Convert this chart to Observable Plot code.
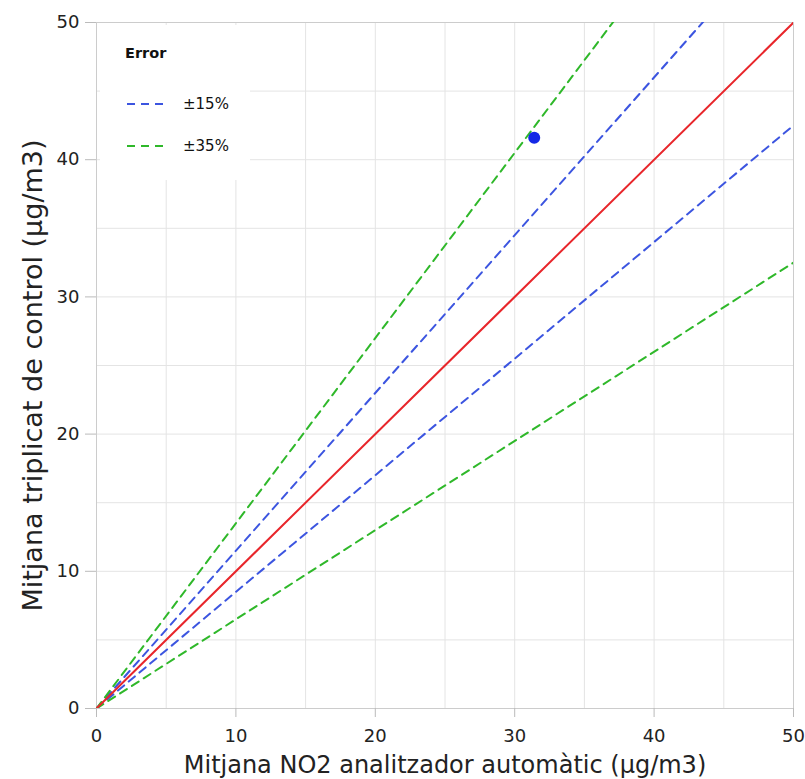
<!DOCTYPE html>
<html><head><meta charset="utf-8">
<script src="https://cdn.jsdelivr.net/npm/d3@7"></script>
<script src="https://cdn.jsdelivr.net/npm/@observablehq/plot@0.6"></script>
<style>
body{margin:0;background:#fff;font-family:"DejaVu Sans",sans-serif;}
#wrap{position:relative;width:805px;height:779px;}
#legend{position:absolute;left:100px;top:25px;width:150px;height:155px;background:#fff;font-family:"DejaVu Sans",sans-serif;}
#legend .t{position:absolute;left:25px;top:20px;font-size:14.5px;font-weight:bold;color:#111;}
#legend .row{position:absolute;left:25px;font-size:15px;color:#111;line-height:16px;}
</style></head>
<body><div id="wrap"></div>
<script>
const xDomain = [0, 50];
const yDomain = [0, 50];
const errorLevels = [15, 35];
const errorColors = ["#3c55e0", "#2fb82a"];
const pointX = [31.4];
const pointY = [41.6];
const axisTicks = [0, 10, 20, 30, 40, 50];
const gridTicks = [5, 10, 15, 20, 25, 30, 35, 40, 45];

const lines = [];
errorLevels.forEach((e, i) => {
  for (const s of [1, -1]) {
    const f = 1 + s * e / 100;
    const id = `${e}${s}`;
    xDomain.forEach(x => lines.push({id, x, y: x * f, color: errorColors[i]}));
  }
});
const identity = xDomain.map(x => ({x, y: x}));
const points = pointX.map((x, i) => ({x, y: pointY[i]}));

const xLabel = "Mitjana NO2 analitzador automàtic (µg/m3)";
const yLabel = "Mitjana triplicat de control (µg/m3)";

const chart = Plot.plot({
  width: 805, height: 779,
  marginLeft: 96, marginRight: 12, marginTop: 22, marginBottom: 71,
  style: {fontFamily: "DejaVu Sans, sans-serif", fontSize: "18px", color: "#222"},
  x: {domain: xDomain, label: xLabel},
  y: {domain: yDomain, label: yLabel},
  marks: [
    Plot.gridX(gridTicks, {stroke: "#e4e4e4", strokeOpacity: 1}),
    Plot.gridY(gridTicks, {stroke: "#e4e4e4", strokeOpacity: 1}),
    Plot.frame({stroke: "#cccccc"}),
    Plot.line(lines, {x: "x", y: "y", z: "id", stroke: "color", strokeWidth: 2, strokeDasharray: "8,6", clip: true}),
    Plot.line(identity, {x: "x", y: "y", stroke: "#e8262b", strokeWidth: 2, clip: true}),
    Plot.dot(points, {x: "x", y: "y", r: 6, fill: "#1428e6", stroke: "none"}),
    Plot.axisX({ticks: axisTicks, tickSize: 9, tickPadding: 12, fontSize: 18, stroke: "#bbb", label: xLabel, labelArrow: "none", labelAnchor: "center", labelOffset: 64}),
    Plot.axisY({ticks: axisTicks, tickSize: 11, tickPadding: 6, fontSize: 18, stroke: "#bbb", label: yLabel, labelArrow: "none", labelAnchor: "center", labelOffset: 74})
  ]
});
chart.querySelectorAll("g[aria-label='x-axis label'] text").forEach(t => t.style.fontSize = "24px");
chart.querySelectorAll("g[aria-label='y-axis label'] text").forEach(t => {
  t.style.fontSize = "27px";
  const tr = t.getAttribute("transform") || "";
  const m = tr.match(/translate\(([-\d.]+),([-\d.]+)\)(.*)/);
  if (m) t.setAttribute("transform", `translate(${m[1]},${+m[2] + 10})${m[3]}`);
});
document.getElementById("wrap").appendChild(chart);

const legend = document.createElement("div");
legend.id = "legend";
let html = `<div class="t">Error</div>`;
errorLevels.forEach((e, i) => {
  const top = 70 + i * 42;
  html += `<div class="row" style="top:${top}px"><svg width="40" height="12" style="vertical-align:middle"><line x1="2" x2="38" y1="6" y2="6" stroke="${errorColors[i]}" stroke-width="2" stroke-dasharray="8,6"/></svg><span style="margin-left:18px;vertical-align:middle">±${e}%</span></div>`;
});
legend.innerHTML = html;
document.getElementById("wrap").appendChild(legend);
</script></body></html>
